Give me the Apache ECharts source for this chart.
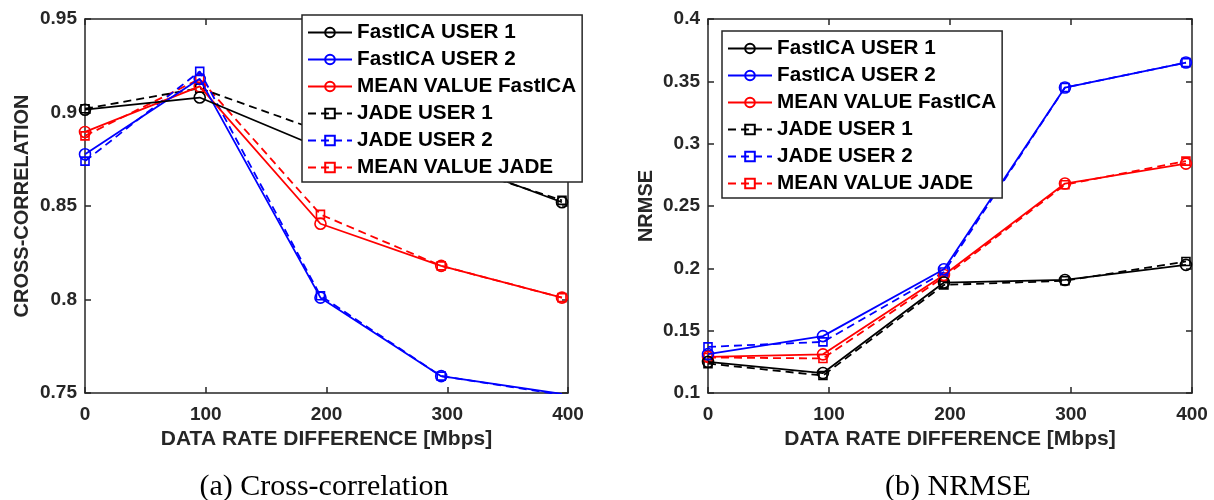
<!DOCTYPE html>
<html lang="en">

<head>
  <meta charset="utf-8">
  <script src="https://cdn.jsdelivr.net/npm/echarts@6/dist/echarts.min.js"></script>
</head>

<body style="margin:0;background:#fff">
  <div id="chart" style="width: 1214px;height:500px;"></div>

  <script type="text/javascript">

    // data rate difference [Mbps]
    var xValues = [0, 95, 195, 295, 395];

    var seriesNames = ['FastICA USER 1', 'FastICA USER 2', 'MEAN VALUE FastICA',
                       'JADE USER 1', 'JADE USER 2', 'MEAN VALUE JADE'];

    // (a) cross-correlation
    var ccFastUser1 = [0.9015, 0.908, 0.881, 0.876, 0.852];
    var ccFastUser2 = [0.8777, 0.918, 0.801, 0.759, 0.7495];
    var ccFastMean  = [0.8896, 0.914, 0.8405, 0.818, 0.801];
    var ccJadeUser1 = [0.902, 0.913, 0.890, 0.874, 0.853];
    var ccJadeUser2 = [0.874, 0.922, 0.802, 0.759, 0.749];
    var ccJadeMean  = [0.8875, 0.918, 0.8455, 0.818, 0.801];

    // (b) NRMSE
    var nrFastUser1 = [0.125, 0.116, 0.1886, 0.1907, 0.2028];
    var nrFastUser2 = [0.1312, 0.1456, 0.1993, 0.345, 0.3651];
    var nrFastMean  = [0.129, 0.131, 0.1947, 0.268, 0.284];
    var nrJadeUser1 = [0.1236, 0.114, 0.1867, 0.190, 0.2055];
    var nrJadeUser2 = [0.137, 0.141, 0.197, 0.345, 0.365];
    var nrJadeMean  = [0.1285, 0.1277, 0.193, 0.267, 0.286];

    var colors = ['#000000', '#0000ff', '#ff0000', '#000000', '#0000ff', '#ff0000'];
    var axisColor = '#262626';
    var font = 'Liberation Sans';

    function pairs(ys) {
        return xValues.map(function (x, i) { return [x, ys[i]]; });
    }

    function makeSeries(idx, ys, axisIndex) {
        var dashed = idx >= 3;
        return {
            name: seriesNames[idx],
            type: 'line',
            xAxisIndex: axisIndex,
            yAxisIndex: axisIndex,
            data: pairs(ys),
            symbol: dashed ? 'rect' : 'circle',
            symbolSize: dashed ? 8 : 11,
            showAllSymbol: true,
            z: 10 - idx,
            lineStyle: { color: colors[idx], width: 1.8, type: dashed ? [8, 5] : 'solid' },
            itemStyle: { color: 'rgba(255,255,255,0)', borderColor: colors[idx], borderWidth: 1.6 },
            emphasis: { disabled: true }
        };
    }

    function mainX(gridIndex, name) {
        return {
            type: 'value', gridIndex: gridIndex, min: 0, max: 400, interval: 100,
            name: name, nameLocation: 'middle', nameGap: 36,
            nameTextStyle: { fontFamily: font, fontWeight: 'bold', fontSize: 21, color: axisColor },
            axisLine: { onZero: false, lineStyle: { color: axisColor, width: 1.5 } },
            axisTick: { inside: true, length: 6, lineStyle: { color: axisColor, width: 1.5 } },
            axisLabel: { fontFamily: font, fontWeight: 'bold', fontSize: 19, color: axisColor, margin: 12 },
            splitLine: { show: false }
        };
    }

    function boxX(gridIndex) {
        return {
            type: 'value', gridIndex: gridIndex, position: 'top', min: 0, max: 400, interval: 100,
            axisLine: { onZero: false, lineStyle: { color: axisColor, width: 1.5 } },
            axisTick: { inside: true, length: 6, lineStyle: { color: axisColor, width: 1.5 } },
            axisLabel: { show: false }, splitLine: { show: false }
        };
    }

    function mainY(gridIndex, min, max, name, gap) {
        return {
            type: 'value', gridIndex: gridIndex, min: min, max: max, interval: 0.05,
            name: name, nameLocation: 'middle', nameGap: gap,
            nameTextStyle: { fontFamily: font, fontWeight: 'bold', fontSize: 20, color: axisColor },
            axisLine: { show: true, onZero: false, lineStyle: { color: axisColor, width: 1.5 } },
            axisTick: { show: true, inside: true, length: 6, lineStyle: { color: axisColor, width: 1.5 } },
            axisLabel: { fontFamily: font, fontWeight: 'bold', fontSize: 19, color: axisColor, margin: 8 },
            splitLine: { show: false }
        };
    }

    function boxY(gridIndex, min, max) {
        return {
            type: 'value', gridIndex: gridIndex, position: 'right', min: min, max: max, interval: 0.05,
            axisLine: { show: true, onZero: false, lineStyle: { color: axisColor, width: 1.5 } },
            axisTick: { show: true, inside: true, length: 6, lineStyle: { color: axisColor, width: 1.5 } },
            axisLabel: { show: false }, splitLine: { show: false }
        };
    }

    function makeLegend(left, top) {
        return {
            show: true, orient: 'vertical', left: left, top: top,
            data: seriesNames,
            itemWidth: 44, itemHeight: 12, itemGap: 6,
            padding: [7, 6, 4, 5],
            backgroundColor: '#ffffff',
            borderColor: axisColor, borderWidth: 1.5, borderRadius: 0,
            selectedMode: false,
            textStyle: { fontFamily: font, fontWeight: 'bold', fontSize: 20.7, color: '#000', lineHeight: 20 },
            z: 20
        };
    }

    var chart = echarts.init(document.getElementById('chart'));

    var series = [];
    [ccFastUser1, ccFastUser2, ccFastMean, ccJadeUser1, ccJadeUser2, ccJadeMean].forEach(function (ys, i) {
        series.push(makeSeries(i, ys, 0));
    });
    [nrFastUser1, nrFastUser2, nrFastMean, nrJadeUser1, nrJadeUser2, nrJadeMean].forEach(function (ys, i) {
        series.push(makeSeries(i, ys, 1));
    });

    var option = {
        backgroundColor: '#ffffff',
        animation: false,
        title: [
            { text: '(a) Cross-correlation', left: 319, top: 467, textAlign: 'center',
              textStyle: { fontFamily: 'Liberation Serif', fontWeight: 'normal', fontSize: 30, color: '#000' } },
            { text: '(b) NRMSE', left: 953, top: 467, textAlign: 'center',
              textStyle: { fontFamily: 'Liberation Serif', fontWeight: 'normal', fontSize: 30, color: '#000' } }
        ],
        legend: [makeLegend(302, 15), makeLegend(722, 31)],
        grid: [
            { left: 85, right: 646, top: 19, bottom: 107 },
            { left: 708, right: 22, top: 19, bottom: 107 }
        ],
        xAxis: [mainX(0, 'DATA RATE DIFFERENCE [Mbps]'), mainX(1, 'DATA RATE DIFFERENCE [Mbps]'), boxX(0), boxX(1)],
        yAxis: [mainY(0, 0.75, 0.95, 'CROSS-CORRELATION', 53), mainY(1, 0.1, 0.4, 'NRMSE', 52), boxY(0, 0.75, 0.95), boxY(1, 0.1, 0.4)],
        series: series
    };

    chart.setOption(option);
  </script>
</body>

</html>
